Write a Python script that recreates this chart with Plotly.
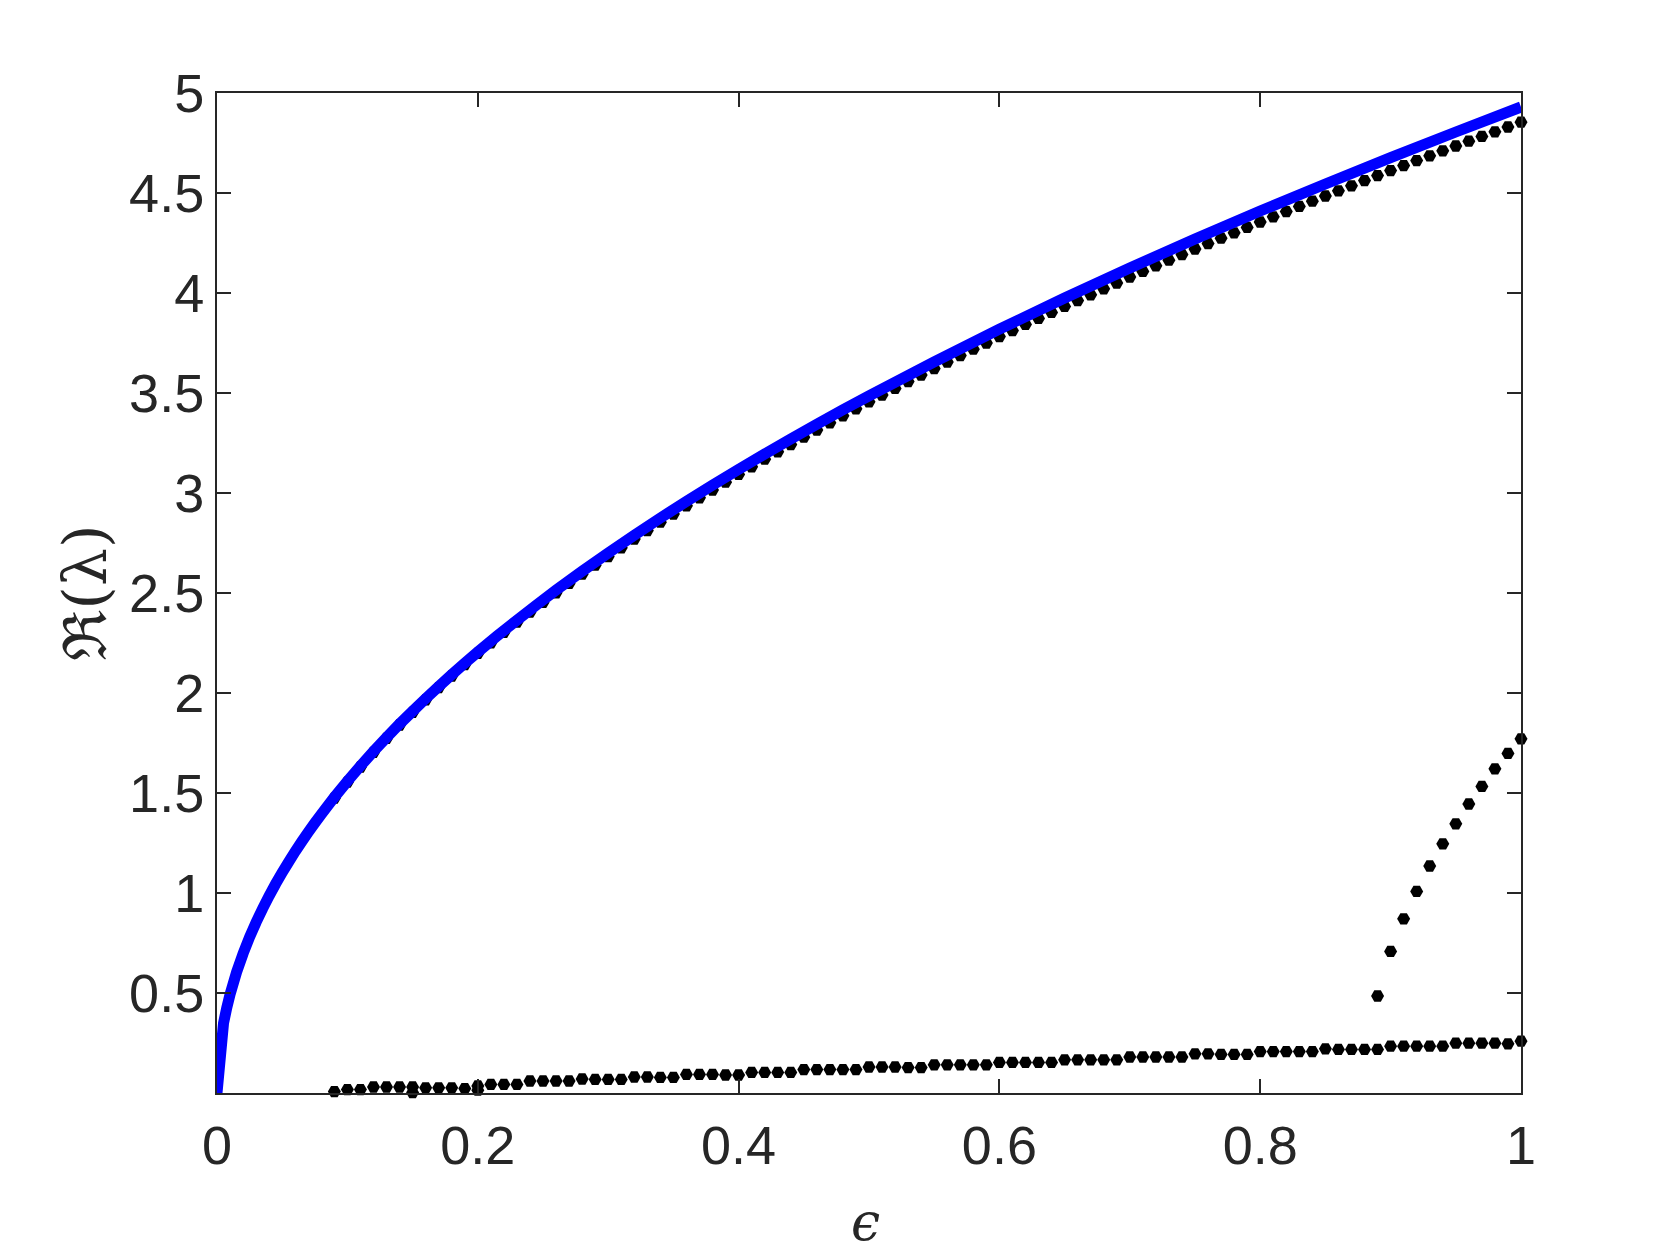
import plotly.graph_objects as go

# blue curve (continuous branch)
eps_curve = [0, 0.005, 0.0075, 0.01, 0.015, 0.02, 0.025, 0.03, 0.035, 0.04, 0.045, 0.05,
             0.055, 0.06, 0.065, 0.07, 0.075, 0.08, 0.09, 0.10, 0.11, 0.12, 0.13, 0.14,
             0.15, 0.16, 0.17, 0.18, 0.19, 0.20, 0.215, 0.23, 0.245, 0.26, 0.28, 0.30,
             0.32, 0.34, 0.36, 0.38, 0.40, 0.42, 0.44, 0.46, 0.48, 0.50, 0.55, 0.60,
             0.65, 0.70, 0.75, 0.80, 0.85, 0.90, 0.95, 1.00]
re_curve = [0, 0.349, 0.427, 0.493, 0.604, 0.697, 0.780, 0.854, 0.922, 0.986, 1.046, 1.102,
            1.156, 1.208, 1.257, 1.304, 1.350, 1.394, 1.479, 1.559, 1.635, 1.708, 1.778, 1.845,
            1.909, 1.972, 2.033, 2.092, 2.149, 2.205, 2.286, 2.364, 2.440, 2.514, 2.609, 2.700,
            2.789, 2.875, 2.958, 3.039, 3.118, 3.195, 3.270, 3.344, 3.416, 3.486, 3.656, 3.819,
            3.975, 4.125, 4.270, 4.410, 4.545, 4.677, 4.805, 4.930]

# computed eigenvalues (black dots), epsilon = 0.09 ... 1.00
eps_dots = [0.09, 0.10, 0.11, 0.12, 0.13, 0.14, 0.15, 0.16, 0.17, 0.18, 0.19, 0.20,
            0.21, 0.22, 0.23, 0.24, 0.25, 0.26, 0.27, 0.28, 0.29, 0.30, 0.31, 0.32,
            0.33, 0.34, 0.35, 0.36, 0.37, 0.38, 0.39, 0.40, 0.41, 0.42, 0.43, 0.44,
            0.45, 0.46, 0.47, 0.48, 0.49, 0.50, 0.51, 0.52, 0.53, 0.54, 0.55, 0.56,
            0.57, 0.58, 0.59, 0.60, 0.61, 0.62, 0.63, 0.64, 0.65, 0.66, 0.67, 0.68,
            0.69, 0.70, 0.71, 0.72, 0.73, 0.74, 0.75, 0.76, 0.77, 0.78, 0.79, 0.80,
            0.81, 0.82, 0.83, 0.84, 0.85, 0.86, 0.87, 0.88, 0.89, 0.90, 0.91, 0.92,
            0.93, 0.94, 0.95, 0.96, 0.97, 0.98, 0.99, 1.00]
re_upper = [1.474, 1.554, 1.630, 1.703, 1.773, 1.840, 1.903, 1.966, 2.027, 2.085, 2.142, 2.198,
            2.251, 2.303, 2.354, 2.404, 2.453, 2.501, 2.548, 2.594, 2.639, 2.682, 2.726, 2.770,
            2.812, 2.854, 2.895, 2.936, 2.976, 3.015, 3.054, 3.093, 3.131, 3.169, 3.206, 3.242,
            3.279, 3.315, 3.351, 3.386, 3.421, 3.456, 3.490, 3.523, 3.557, 3.590, 3.622, 3.655,
            3.687, 3.719, 3.750, 3.782, 3.812, 3.843, 3.873, 3.903, 3.933, 3.962, 3.991, 4.021,
            4.050, 4.080, 4.108, 4.136, 4.164, 4.192, 4.220, 4.247, 4.274, 4.301, 4.328, 4.355,
            4.381, 4.407, 4.433, 4.459, 4.485, 4.511, 4.536, 4.562, 4.587, 4.612, 4.637, 4.662,
            4.686, 4.711, 4.735, 4.759, 4.783, 4.806, 4.830, 4.854]
re_lower = [0.007, 0.017, 0.017, 0.030, 0.030, 0.030, 0.030, 0.026, 0.026, 0.026, 0.022, 0.035,
            0.043, 0.043, 0.043, 0.060, 0.060, 0.060, 0.060, 0.070, 0.068, 0.068, 0.068, 0.080,
            0.080, 0.078, 0.078, 0.093, 0.093, 0.093, 0.090, 0.090, 0.103, 0.103, 0.103, 0.103,
            0.117, 0.117, 0.117, 0.117, 0.117, 0.130, 0.130, 0.130, 0.127, 0.127, 0.141, 0.141,
            0.141, 0.141, 0.141, 0.153, 0.153, 0.153, 0.153, 0.153, 0.166, 0.166, 0.166, 0.166,
            0.166, 0.180, 0.180, 0.180, 0.180, 0.180, 0.196, 0.196, 0.193, 0.193, 0.193, 0.207,
            0.207, 0.207, 0.207, 0.207, 0.221, 0.218, 0.218, 0.218, 0.218, 0.234, 0.234, 0.234,
            0.234, 0.234, 0.249, 0.249, 0.249, 0.249, 0.246, 0.259]

# extra low points
eps_extra = [0.15, 0.20]
re_extra = [0.002, 0.014]

# branch appearing near epsilon = 0.89
eps_branch = [0.89, 0.90, 0.91, 0.92, 0.93, 0.94, 0.95, 0.96, 0.97, 0.98, 0.99, 1.00]
re_branch = [0.485, 0.708, 0.871, 1.008, 1.135, 1.246, 1.346, 1.445, 1.533, 1.621, 1.698, 1.771]

AXIS_COLOR = "#262626"
dot_style = dict(symbol="hexagon2", size=13, color="black", line=dict(width=0))

fig = go.Figure()
for xs, ys in [(eps_dots, re_upper), (eps_dots, re_lower), (eps_extra, re_extra),
               (eps_branch, re_branch)]:
    fig.add_trace(go.Scatter(x=xs, y=ys, mode="markers", marker=dot_style,
                             cliponaxis=False, showlegend=False))
fig.add_trace(go.Scatter(x=eps_curve, y=re_curve, mode="lines",
                         line=dict(color="#0000ff", width=11, simplify=False),
                         showlegend=False))

axis_common = dict(
    showgrid=False, zeroline=False, showline=True, linecolor=AXIS_COLOR, linewidth=2,
    mirror="allticks", ticks="inside", ticklen=14, tickwidth=2, tickcolor=AXIS_COLOR,
    tickfont=dict(family="Liberation Sans, Arial, sans-serif", size=54, color=AXIS_COLOR),
)
fig.update_xaxes(range=[0, 1], tickvals=[0, 0.2, 0.4, 0.6, 0.8, 1],
                 ticktext=["0", "0.2", "0.4", "0.6", "0.8", "1"],
                 ticklabelstandoff=4, **axis_common)
fig.update_yaxes(range=[0, 5], tickvals=[0.5, 1, 1.5, 2, 2.5, 3, 3.5, 4, 4.5, 5],
                 ticktext=["0.5", "1", "1.5", "2", "2.5", "3", "3.5", "4", "4.5", "5"],
                 **axis_common)

fig.add_annotation(text="ℜ(λ)", xref="paper", yref="paper", x=-0.1016, y=0.5,
                   xanchor="center", yanchor="middle", textangle=-90, showarrow=False,
                   font=dict(family="DejaVu Serif, serif", size=60, color=AXIS_COLOR))
fig.add_annotation(text="<i>ϵ</i>", xref="paper", yref="paper", x=0.4975, y=-0.129,
                   xanchor="center", yanchor="middle", showarrow=False,
                   font=dict(family="DejaVu Serif, serif", size=52, color=AXIS_COLOR))

# page body has an 8px margin, so the figure is a bit smaller than the window
fig.update_layout(
    width=1671, height=1250,
    margin=dict(l=209, r=158, t=85, b=165),
    plot_bgcolor="white", paper_bgcolor="white",
)
fig.write_html("out.html")
